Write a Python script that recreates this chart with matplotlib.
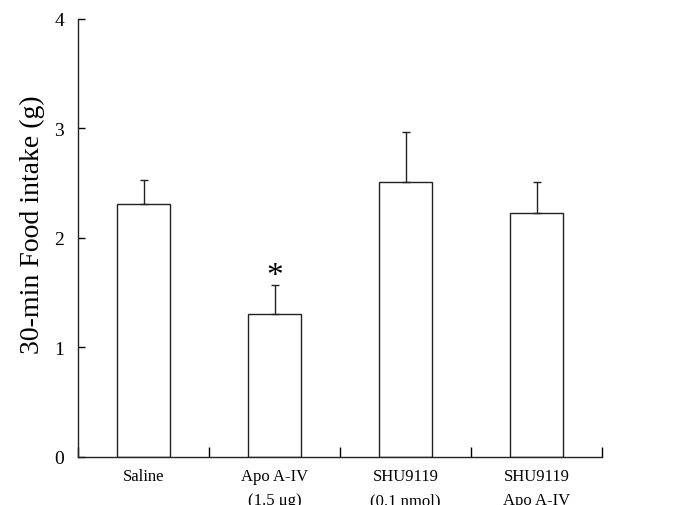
import matplotlib
matplotlib.use('Agg')
import matplotlib.pyplot as plt

plt.rcParams['font.family'] = ['Liberation Serif', 'DejaVu Serif']

groups = ['Saline', 'Apo A-IV\n(1.5 \u03bcg)', 'SHU9119\n(0.1 nmol)', 'SHU9119\nApo A-IV']
means = [2.31, 1.31, 2.51, 2.23]
sems = [0.22, 0.26, 0.46, 0.28]
sig = [False, True, False, False]

fig = plt.figure(figsize=(6.75, 5.06), dpi=100)
ax = fig.add_axes([0.1156, 0.0949, 0.7763, 0.8656])

x = list(range(len(groups)))
ax.bar(x, means, width=0.4, color='white', edgecolor='#222222', linewidth=1.0)
ax.errorbar(x, means, yerr=[[0] * len(sems), sems], fmt='none', ecolor='#222222',
            elinewidth=1.0, capsize=3, capthick=1.0)
for i in x:
    if sig[i]:
        ax.text(i, means[i] + sems[i] - 0.05, '*', ha='center', va='bottom',
                fontsize=24)

ax.set_xlim(-0.5, 3.5)
ax.set_ylim(0, 4)
ax.set_yticks([0, 1, 2, 3, 4])
ax.set_xticks(x)
ax.set_xticklabels(groups, fontsize=12, linespacing=1.65)
ax.set_xticks([-0.5, 0.5, 1.5, 2.5, 3.5], minor=True)
ax.tick_params(axis='x', which='major', length=0, pad=8)
ax.tick_params(axis='x', which='minor', direction='in', length=7, width=1.0)
ax.tick_params(axis='y', direction='in', length=5, width=1.0, labelsize=14, pad=10)
ax.set_ylabel('30-min Food intake (g)', fontsize=20)
ax.yaxis.set_label_coords(-0.063, 0.532)

for s in ['top', 'right']:
    ax.spines[s].set_visible(False)
for s in ['left', 'bottom']:
    ax.spines[s].set_color('#222222')
    ax.spines[s].set_linewidth(1.0)

fig.savefig('out.png', dpi=100)
